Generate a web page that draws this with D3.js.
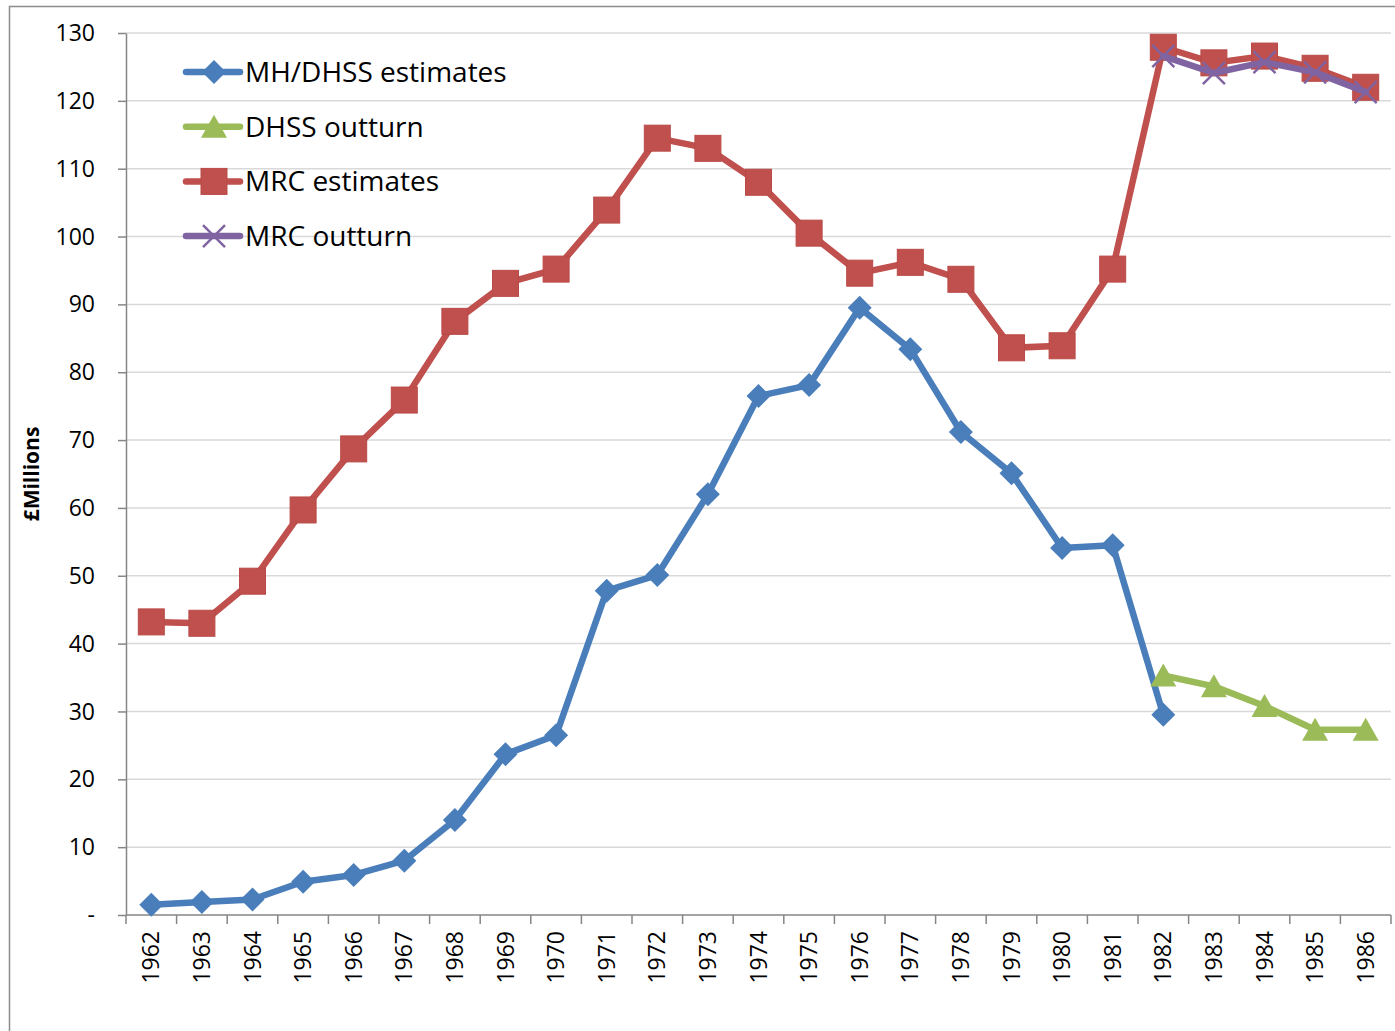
<!DOCTYPE html>
<meta charset="utf-8">
<style>
html, body { margin: 0; background: #fff; }
svg text { font-family: "Open Sans", Lato, sans-serif; fill: #000; }
.grid line { stroke: #d9d9d9; stroke-width: 1.5; }
.axis path, .axis line { stroke: #868686; stroke-width: 1.5; }
</style>
<div id="container"></div>
<script src="https://d3js.org/d3.v7.min.js"></script>
<script>

// years along the x axis
var years = d3.range(1962, 1987).map(String);

// values, £ millions
var mhEstimates = [1.5, 1.9, 2.3, 4.9, 5.9, 8.0, 14.0, 23.7, 26.5, 47.8, 50.1, 62.0, 76.5, 78.1,
  89.5, 83.4, 71.2, 65.1, 54.1, 54.5, 29.5];
var dhssOutturn = [35.3, 33.7, 30.8, 27.3, 27.3];           // 1982-1986
var mrcEstimates = [43.2, 43.0, 49.2, 59.7, 68.7, 75.9, 87.5, 93.1, 95.2, 103.9, 114.5, 113.0,
  108.0, 100.5, 94.6, 96.2, 93.7, 83.6, 83.9, 95.2, 127.9, 125.6, 126.6, 124.8, 122.0];
var mrcOutturn = [126.6, 124.1, 125.7, 124.2, 121.3];        // 1982-1986

var yTicks = d3.range(0, 131, 10);

var series = [
  {name: "MH/DHSS estimates", color: "#4a7ebb", marker: "diamond", start: 0, values: mhEstimates},
  {name: "DHSS outturn", color: "#9bbb59", marker: "triangle", start: 20, values: dhssOutturn},
  {name: "MRC estimates", color: "#c0504d", marker: "square", start: 0, values: mrcEstimates},
  {name: "MRC outturn", color: "#8064a2", marker: "cross", start: 20, values: mrcOutturn}
];

var W = 1395, H = 1031;
var margin = {top: 33, left: 126, right: 4, bottom: 116};

var svg = d3.select("#container").append("svg")
  .attr("width", W).attr("height", H);

// chart area border (cut off on the right and bottom)
svg.append("path")
  .attr("d", "M9.5," + H + "V6.5H" + W)
  .attr("fill", "none").attr("stroke", "#8c8c8c").attr("stroke-width", 1.5);

var x = d3.scaleBand().domain(years).range([margin.left, W - margin.right]);
var y = d3.scaleLinear().domain([0, 130]).range([H - margin.bottom, margin.top]);

// gridlines
svg.append("g").attr("class", "grid")
  .selectAll("line").data(yTicks.slice(1)).enter().append("line")
  .attr("x1", margin.left).attr("x2", W - margin.right)
  .attr("y1", function(d) { return y(d); }).attr("y2", function(d) { return y(d); });

// y axis
var yAxis = svg.append("g").attr("class", "axis")
  .attr("transform", "translate(" + margin.left + ",0)")
  .call(d3.axisLeft(y).tickValues(yTicks).tickSize(8).tickSizeOuter(0)
    .tickFormat(function(d) { return d === 0 ? "-" : d; }));
yAxis.selectAll("text").attr("x", -31).style("font-size", "23px").attr("dy", "0.33em");

// x axis, ticks at band edges
var xAxis = svg.append("g").attr("class", "axis")
  .attr("transform", "translate(0," + y(0) + ")");
xAxis.append("line").attr("x1", margin.left).attr("x2", W - margin.right);
xAxis.selectAll(".tk").data(years.concat(["end"])).enter().append("line")
  .attr("class", "tk")
  .attr("x1", function(d, i) { return margin.left + i * x.bandwidth(); })
  .attr("x2", function(d, i) { return margin.left + i * x.bandwidth(); })
  .attr("y1", 0).attr("y2", 9);
xAxis.selectAll("text").data(years).enter().append("text")
  .attr("transform", function(d) {
    return "translate(" + (x(d) + x.bandwidth() / 2) + ",16) rotate(-90)";
  })
  .attr("text-anchor", "end").attr("dy", "0.35em")
  .style("font-size", "23px")
  .text(function(d) { return d; });

// y axis title
svg.append("text")
  .attr("transform", "translate(32," + y(65) + ") rotate(-90)")
  .attr("text-anchor", "middle").attr("dy", "0.35em")
  .style("font-size", "21px").style("font-weight", "bold")
  .text("£Millions");

function drawMarker(g, type, color) {
  if (type === "diamond") {
    g.append("path").attr("d", "M0,-12L12,0L0,12L-12,0Z").attr("fill", color);
  } else if (type === "triangle") {
    g.append("path").attr("d", "M0,-12L13,11L-13,11Z").attr("fill", color);
  } else if (type === "square") {
    g.append("rect").attr("x", -13).attr("y", -13).attr("width", 26).attr("height", 26)
      .attr("fill", color).attr("stroke", "#b94a47").attr("stroke-width", 1);
  } else if (type === "cross") {
    g.append("path").attr("d", "M-11,-11L11,11M-11,11L11,-11")
      .attr("stroke", color).attr("stroke-width", 2.5).attr("fill", "none");
  }
}

var line = d3.line()
  .x(function(d) { return x(d.year) + x.bandwidth() / 2; })
  .y(function(d) { return y(d.value); });

series.forEach(function(s) {
  var pts = s.values.map(function(v, i) { return {year: years[s.start + i], value: v}; });
  svg.append("path").datum(pts)
    .attr("d", line)
    .attr("fill", "none").attr("stroke", s.color)
    .attr("stroke-width", 6.5).attr("stroke-linejoin", "round").attr("stroke-linecap", "round");
  svg.append("g").selectAll("g").data(pts).enter().append("g")
    .attr("transform", function(d) {
      return "translate(" + (x(d.year) + x.bandwidth() / 2) + "," + y(d.value) + ")";
    })
    .each(function() { drawMarker(d3.select(this), s.marker, s.color); });
});

// legend
var legend = svg.append("g").selectAll("g").data(series).enter().append("g")
  .attr("transform", function(d, i) { return "translate(186," + (72 + i * 54.7) + ")"; });
legend.append("line").attr("x1", 0).attr("x2", 54)
  .attr("stroke", function(d) { return d.color; }).attr("stroke-width", 6.5).attr("stroke-linecap", "round");
legend.each(function(d) {
  var g = d3.select(this).append("g").attr("transform", "translate(28,0)");
  drawMarker(g, d.marker, d.color);
});
legend.append("text").attr("x", 59).attr("dy", "0.35em")
  .style("font-size", "28px")
  .text(function(d) { return d.name; });

</script>
